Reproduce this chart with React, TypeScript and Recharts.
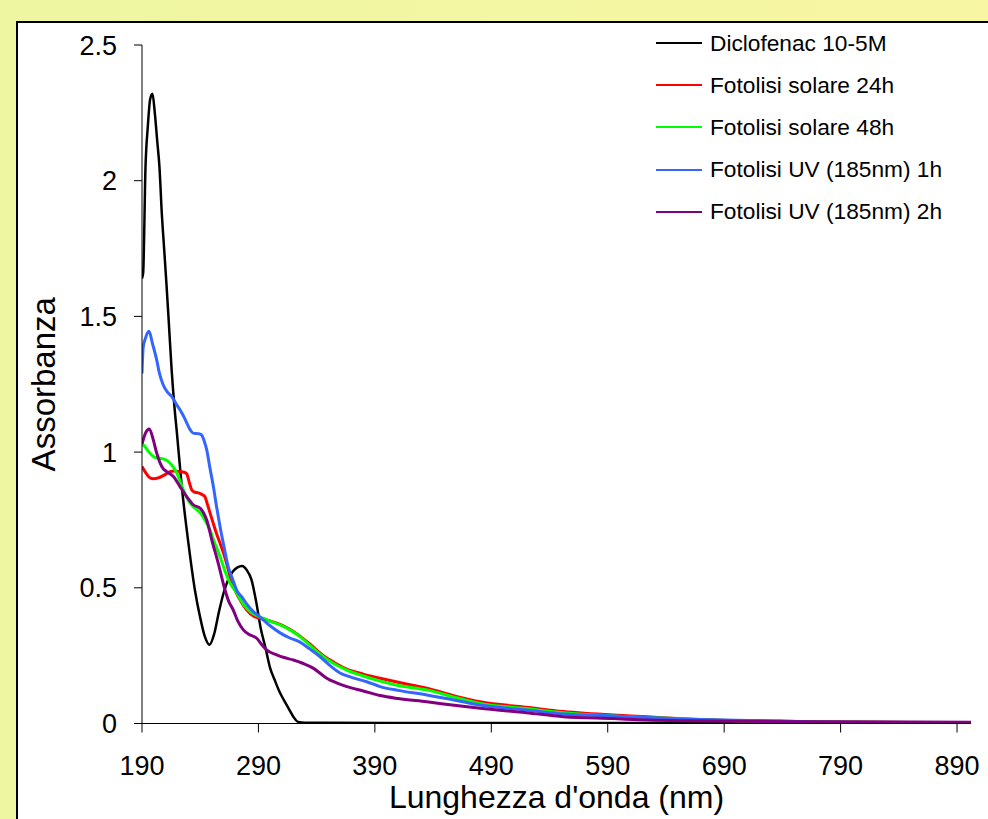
import { LineChart, Line, XAxis, YAxis } from "recharts";

const FONT = '"Liberation Sans", Arial, Helvetica, sans-serif';

// wavelength ticks (nm) and absorbance ticks
const xTicks = [190, 290, 390, 490, 590, 690, 790, 890];
const yTicks = [0, 0.5, 1, 1.5, 2, 2.5];

// Diclofenac 10-5M
const diclofenacNm = [
  190, 191, 193, 195, 197, 199, 201, 203, 205, 207, 209, 211, 213, 215.5, 218,
  220, 224, 230, 235.5, 240, 244, 248, 252, 256, 260, 264, 268, 272, 276, 280,
  284, 288, 292, 296, 300, 304, 308, 312, 316, 320, 324, 330, 400, 500, 600,
  700, 800, 902,
];
const diclofenacAbs = [
  1.64, 1.66, 2.05, 2.2, 2.3, 2.32, 2.25, 2.15, 2.05, 1.88, 1.75, 1.62, 1.48,
  1.3, 1.16, 1.07, 0.88, 0.66, 0.49, 0.39, 0.32, 0.29, 0.33, 0.41, 0.48, 0.53,
  0.56, 0.575, 0.58, 0.565, 0.53, 0.45, 0.35, 0.28, 0.205, 0.16, 0.118, 0.085,
  0.055, 0.025, 0.006, 0.003, 0.002, 0.002, 0.002, 0.002, 0.002, 0.002,
];

// Fotolisi solare 24h
const solare24Nm = [
  190, 193, 196.9, 200, 204, 209, 214, 218, 222.6, 226, 228.4, 230.5, 232.7,
  235.5, 238.4, 241, 244, 246, 248.4, 251, 254, 257, 260, 263, 265.6, 270, 275,
  280, 286, 297, 308.6, 317, 325.7, 335, 345.8, 355, 365.9, 380, 394.5, 410,
  434.6, 460, 480.4, 520, 552, 595, 624, 650, 700, 800, 902,
];
const solare24Abs = [
  0.947, 0.925, 0.905, 0.902, 0.905, 0.915, 0.928, 0.93, 0.928, 0.926, 0.92,
  0.89, 0.861, 0.852, 0.85, 0.845, 0.836, 0.81, 0.776, 0.74, 0.7, 0.665, 0.628,
  0.585, 0.541, 0.49, 0.45, 0.418, 0.395, 0.382, 0.365, 0.347, 0.322, 0.29,
  0.25, 0.225, 0.2, 0.182, 0.167, 0.152, 0.13, 0.1, 0.08, 0.06, 0.044, 0.031,
  0.025, 0.018, 0.01, 0.005, 0.003,
];

// Fotolisi solare 48h
const solare48Nm = [
  190, 192.6, 196, 199.7, 204, 208.3, 214, 219.8, 225.5, 231.2, 235, 240, 244,
  248.4, 252, 257, 261, 265.6, 271.4, 277, 282.8, 290, 297, 308.6, 317, 325.7,
  335, 345.8, 355, 365.9, 380, 394.5, 410, 434.6, 460, 480.4, 520, 552, 595,
  650, 700, 800, 902,
];
const solare48Abs = [
  1.03, 1.02, 1.0, 0.984, 0.978, 0.975, 0.96, 0.924, 0.861, 0.813, 0.795, 0.776,
  0.75, 0.713, 0.67, 0.615, 0.565, 0.518, 0.48, 0.44, 0.412, 0.395, 0.382,
  0.363, 0.345, 0.32, 0.285, 0.246, 0.22, 0.197, 0.175, 0.156, 0.14, 0.124,
  0.095, 0.074, 0.055, 0.04, 0.028, 0.018, 0.01, 0.005, 0.003,
];

// Fotolisi UV (185nm) 1h
const uv1hNm = [
  190, 191, 193, 196, 199, 202.6, 205, 208, 212, 215.5, 219, 222.6, 226, 228.4,
  231, 234, 238, 241, 243.5, 245.6, 248, 251.3, 254, 257, 260.5, 264, 268,
  271.4, 276, 280, 285, 291, 300, 308.6, 317, 325.7, 334, 343, 351, 360, 370,
  383, 394.5, 410, 434.6, 460, 480, 520, 552, 595, 624, 660, 700, 738, 760, 800,
  902,
];
const uv1hAbs = [
  1.29, 1.385, 1.42, 1.445, 1.4, 1.34, 1.29, 1.25, 1.22, 1.205, 1.18, 1.156,
  1.13, 1.108, 1.085, 1.07, 1.068, 1.064, 1.04, 1.008, 0.95, 0.873, 0.8, 0.726,
  0.65, 0.578, 0.53, 0.49, 0.465, 0.44, 0.415, 0.394, 0.36, 0.334, 0.315, 0.3,
  0.275, 0.246, 0.215, 0.186, 0.17, 0.154, 0.136, 0.122, 0.105, 0.085, 0.068,
  0.05, 0.035, 0.028, 0.022, 0.016, 0.012, 0.01, 0.006, 0.004, 0.003,
];

// Fotolisi UV (185nm) 2h
const uv2hNm = [
  190, 191, 193, 196.3, 199.7, 202.6, 205.5, 208, 211.2, 217, 222.6, 228.4, 234,
  240, 243, 245.6, 249.9, 255.5, 261.3, 264.5, 268.4, 272, 277, 282, 288.5, 293,
  297, 305.7, 312, 320, 328, 337, 343, 348.7, 357, 365.9, 380, 394.5, 410,
  434.6, 460, 480.4, 520, 552, 595, 624, 660, 700, 800, 902,
];
const uv2hAbs = [
  1.03, 1.045, 1.07, 1.085, 1.045, 0.997, 0.96, 0.94, 0.928, 0.91, 0.873, 0.836,
  0.806, 0.793, 0.775, 0.75, 0.677, 0.59, 0.492, 0.45, 0.418, 0.38, 0.345,
  0.328, 0.314, 0.29, 0.271, 0.253, 0.243, 0.234, 0.222, 0.204, 0.185, 0.167,
  0.15, 0.136, 0.12, 0.103, 0.092, 0.08, 0.066, 0.056, 0.04, 0.025, 0.018,
  0.013, 0.01, 0.008, 0.006, 0.005,
];

const toPoints = (nm: number[], abs: number[]) =>
  nm.map((x, i) => ({ nm: x, abs: abs[i] }));

const series = [
  { name: "Diclofenac 10-5M", color: "#000000", width: 2.5, data: toPoints(diclofenacNm, diclofenacAbs) },
  { name: "Fotolisi solare 24h", color: "#ff0000", width: 3, data: toPoints(solare24Nm, solare24Abs) },
  { name: "Fotolisi solare 48h", color: "#00ff00", width: 3, data: toPoints(solare48Nm, solare48Abs) },
  { name: "Fotolisi UV (185nm) 1h", color: "#3366ff", width: 3, data: toPoints(uv1hNm, uv1hAbs) },
  { name: "Fotolisi UV (185nm) 2h", color: "#800080", width: 3, data: toPoints(uv2hNm, uv2hAbs) },
];

function LegendBox() {
  return (
    <div style={{ position: "absolute", left: 656, top: 22, fontFamily: FONT }}>
      {series.map((s) => (
        <div
          key={s.name}
          style={{ display: "flex", alignItems: "center", height: 42.2 }}
        >
          <div style={{ width: 46, height: 2, background: s.color, marginRight: 8 }} />
          <span style={{ fontSize: 22.7, color: "#000", whiteSpace: "nowrap" }}>
            {s.name}
          </span>
        </div>
      ))}
    </div>
  );
}

export default function App() {
  return (
    <div
      style={{
        position: "fixed",
        left: 0,
        top: 0,
        width: 988,
        height: 819,
        overflow: "hidden",
        background: "linear-gradient(90deg, #eef6a2 0%, #f8f6a2 100%)",
        fontFamily: FONT,
      }}
    >
      <div
        style={{
          position: "absolute",
          left: 16,
          top: 21,
          width: 1000,
          height: 830,
          background: "#ffffff",
          border: "2px solid #000",
        }}
      />
      <div style={{ position: "absolute", left: 0, top: 0 }}>
        <LineChart
          width={988}
          height={819}
          margin={{ top: 45, right: 17, bottom: 11, left: 0 }}
        >
          <XAxis
            type="number"
            dataKey="nm"
            domain={[190, 902]}
            ticks={xTicks}
            allowDataOverflow
            height={84.5}
            stroke="#000"
            tickSize={9}
            tickMargin={23}
            tick={{ fill: "#000", fontSize: 27, fontFamily: FONT }}
            label={{
              value: "Lunghezza d'onda (nm)",
              position: "insideBottom",
              offset: 0,
              fill: "#000",
              fontSize: 32,
              fontFamily: FONT,
            }}
          />
          <YAxis
            type="number"
            domain={[0, 2.5]}
            ticks={yTicks}
            allowDataOverflow
            width={142}
            stroke="#000"
            tickSize={8}
            tickMargin={17}
            tick={{ fill: "#000", fontSize: 27, fontFamily: FONT }}
            label={{
              value: "Assorbanza",
              angle: -90,
              position: "insideLeft",
              offset: 43,
              fill: "#000",
              fontSize: 33,
              fontFamily: FONT,
              style: { textAnchor: "middle" },
            }}
          />
          {series.map((s) => (
            <Line
              key={s.name}
              data={s.data}
              dataKey="abs"
              name={s.name}
              type="monotone"
              stroke={s.color}
              strokeWidth={s.width}
              dot={false}
              activeDot={false}
              isAnimationActive={false}
            />
          ))}
        </LineChart>
      </div>
      <LegendBox />
    </div>
  );
}
